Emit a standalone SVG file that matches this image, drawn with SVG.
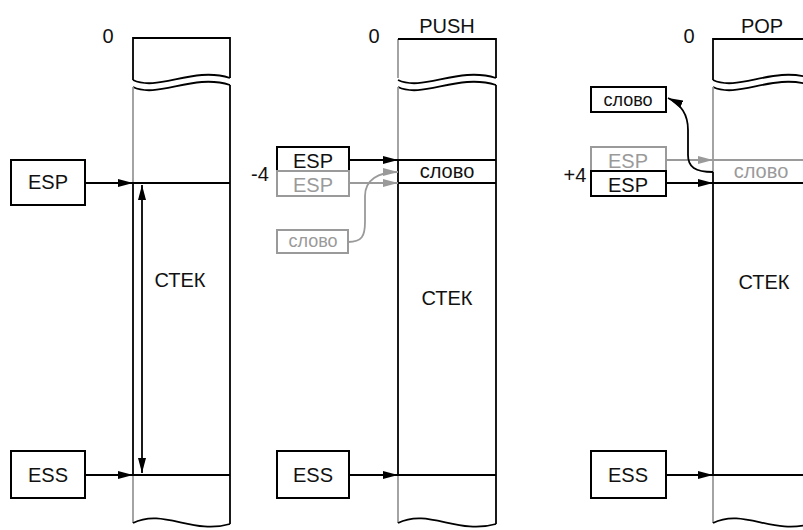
<svg xmlns="http://www.w3.org/2000/svg" width="803" height="530" viewBox="0 0 803 530">
<style>
.ln{stroke:#000;stroke-width:1.8;fill:none}
.gl{stroke:#9a9a9a;stroke-width:1.8;fill:none}
.box{fill:#fff;stroke:#000;stroke-width:2}
.gbox{fill:#fff;stroke:#9a9a9a;stroke-width:2}
.t{font-family:"Liberation Sans",Arial,sans-serif;font-size:20px;text-anchor:middle;fill:#111}
.g{fill:#9a9a9a}
.s{font-size:18px}
</style>
<defs>
<marker id="ah" markerUnits="userSpaceOnUse" markerWidth="16" markerHeight="9" refX="15" refY="4" orient="auto-start-reverse"><path d="M0,0 L15,4 L0,8 z" fill="#000"/></marker>
<marker id="ahg" markerUnits="userSpaceOnUse" markerWidth="16" markerHeight="9" refX="15" refY="4" orient="auto"><path d="M0,0 L15,4 L0,8 z" fill="#9a9a9a"/></marker>
</defs>

<!-- Stack 1 -->
<g id="stack1">
<path class="ln" d="M133,80 V38 H230 V78"/>
<path class="ln" d="M133,80 C158,92 193,66 230,78"/>
<path class="ln" d="M133,87 C158,99 193,73 230,85"/>
<path class="gl" d="M133,87 V183"/>
<path class="ln" d="M133,183 V475"/>
<path class="gl" d="M133,475 V523"/>
<path class="ln" d="M230,85 V524"/>
<path class="ln" d="M133,523 C163,508 193,535 230,524"/>
<path class="ln" d="M133,183 H230 M133,475 H230"/>
<text class="t" x="108" y="43" font-size="18">0</text>
<text class="t" x="180" y="287">СТЕК</text>
</g>
<g id="esp1"><rect class="box" x="11" y="160" width="74" height="45"/><text class="t" x="48" y="189">ESP</text></g>
<g id="ess1"><rect class="box" x="11" y="451" width="74" height="47"/><text class="t" x="48" y="482">ESS</text></g>

<!-- Stack 2 -->
<g id="stack2">
<path class="gl" d="M398,78 V39"/>
<path class="ln" d="M398,39 H496 V78"/>
<path class="ln" d="M398,80 C423,92 458,66 496,78"/>
<path class="ln" d="M398,87 C423,99 458,73 496,85"/>
<path class="gl" d="M398,87 V160"/>
<path class="ln" d="M398,160 V475"/>
<path class="gl" d="M398,475 V523"/>
<path class="ln" d="M496,85 V524"/>
<path class="ln" d="M398,523 C428,508 458,535 496,524"/>
<path class="ln" d="M398,160 H496 M398,183 H496 M398,475 H496"/>
<text class="t" x="374" y="43">0</text>
<text class="t" x="447" y="33">PUSH</text>
<text class="t" x="447" y="178" font-size="18">слово</text>
<text class="t" x="447" y="305">СТЕК</text>
<text class="t" x="260" y="181">-4</text>
</g>
<g id="esp2"><rect class="box" x="277" y="147" width="72" height="24"/><text class="t" x="313" y="168">ESP</text></g>
<g id="esp2old"><rect class="gbox" x="277" y="171" width="72" height="25"/><text class="t g" x="313" y="192">ESP</text></g>
<g id="word2"><rect class="gbox" x="277" y="230" width="71" height="23"/><text class="t g s" x="313" y="247">слово</text></g>
<g id="ess2"><rect class="box" x="277" y="451" width="72" height="47"/><text class="t" x="313" y="482">ESS</text></g>

<!-- Stack 3 -->
<g id="stack3">
<path class="ln" d="M713,80 V39 H810"/>
<path class="ln" d="M713,80 C738,92 773,66 810,78"/>
<path class="ln" d="M713,87 C738,99 773,73 810,85"/>
<path class="gl" d="M713,87 V172"/>
<path class="ln" d="M713,172 V475"/>
<path class="gl" d="M713,475 V523"/>
<path class="ln" d="M713,523 C743,508 773,535 810,524"/>
<path class="gl" d="M713,160 H803"/>
<path class="ln" d="M713,183 H803 M713,475 H803"/>
<text class="t" x="689" y="43">0</text>
<text class="t" x="762" y="33">POP</text>
<text class="t g" x="761" y="178" font-size="18">слово</text>
<text class="t" x="764" y="289">СТЕК</text>
<text class="t" x="575" y="182">+4</text>
</g>
<g id="word3"><rect class="box" x="591" y="87" width="75" height="25"/><text class="t s" x="628" y="106">слово</text></g>
<g id="esp3old"><rect class="gbox" x="591" y="147" width="75" height="24"/><text class="t g" x="628" y="168">ESP</text></g>
<g id="esp3"><rect class="box" x="591" y="171" width="75" height="25"/><text class="t" x="628" y="192">ESP</text></g>
<g id="ess3"><rect class="box" x="591" y="451" width="75" height="47"/><text class="t" x="628" y="482">ESS</text></g>

<!-- Connectors -->
<g id="connectors">
<path class="ln" d="M85,183 H133" marker-end="url(#ah)"/>
<path class="ln" d="M85,475 H133" marker-end="url(#ah)"/>
<path class="ln" d="M142,185 V473" marker-start="url(#ah)" marker-end="url(#ah)"/>
<path class="ln" d="M349,160 H398" marker-end="url(#ah)"/>
<path class="gl" d="M349,183 H398" marker-end="url(#ahg)"/>
<path class="gl" d="M348,242 C362,242 365,236 365,222 L365,196 C365,180 378,172 398,172" marker-end="url(#ahg)"/>
<path class="ln" d="M349,475 H398" marker-end="url(#ah)"/>
<path class="gl" d="M666,160 H713" marker-end="url(#ahg)"/>
<path class="ln" d="M666,183 H713" marker-end="url(#ah)"/>
<path class="ln" d="M713,172 C695,172 688,167 688,155 L688,130 C688,115 681,104 668,98" marker-end="url(#ah)"/>
<path class="ln" d="M666,475 H713" marker-end="url(#ah)"/>
</g>
</svg>
